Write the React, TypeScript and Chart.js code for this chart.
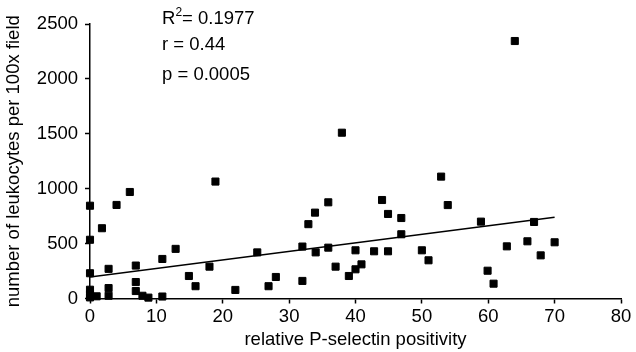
import React, { useEffect, useRef } from "react";
import { Chart, registerables } from "chart.js";

Chart.register(...registerables);

const pointX: number[] = [
  0, 0, 0, 0, 0, 0, 1, 1.8, 2.8, 2.8, 2.8, 4, 6, 6.9, 6.9, 6.9, 7.9, 8.8, 10.9, 10.9,
  12.9, 14.9, 15.9, 18, 18.9, 21.9, 25.2, 26.9, 28, 32, 32, 32.9, 33.9, 34, 35.9, 35.9,
  37, 37.95, 39, 40, 40, 40.9, 42.8, 44, 44.9, 44.9, 46.9, 46.9, 50, 51, 52.9, 53.9,
  58.9, 59.9, 60.8, 62.8, 64, 65.9, 66.9, 67.9, 70,
];
const pointY: number[] = [
  845, 535, 230, 80, 40, 10, 20, 640, 270, 95, 25, 852, 970, 300, 150, 68, 25, 8, 360, 18,
  452, 205, 112, 290, 1065, 78, 420, 112, 196, 160, 473, 677, 782, 420, 876, 463,
  290, 1510, 205, 439, 266, 311, 430, 897, 770, 430, 733, 585, 439, 348, 1110, 851,
  700, 253, 135, 475, 2345, 521, 697, 393, 512,
];
const trendX: number[] = [0, 70];
const trendY: number[] = [195, 740];

const xTicks = { min: 0, max: 80, step: 10 };
const yTicks = { min: 0, max: 2500, step: 500 };

const statLabels: string[] = ["R", "r = 0.44", "p = 0.0005"];
const statX: number[] = [10.85, 10.85, 10.85];
const statY: number[] = [2545, 2312, 2040];

const FONT = "'Liberation Sans', Arial, Helvetica, sans-serif";
const FS = 18.5;

const statPlugin = {
  id: "statText",
  afterDraw(chart: any) {
    const { ctx, scales } = chart;
    ctx.save();
    ctx.fillStyle = "#000";
    ctx.textBaseline = "middle";
    ctx.textAlign = "left";
    statLabels.forEach((t, i) => {
      const px = scales.x.getPixelForValue(statX[i]);
      const py = scales.y.getPixelForValue(statY[i]);
      ctx.font = `${FS}px ${FONT}`;
      if (i === 0) {
        ctx.fillText("R", px, py);
        const w = ctx.measureText("R").width;
        ctx.font = `12px ${FONT}`;
        ctx.fillText("2", px + w, py - 6);
        const w2 = ctx.measureText("2").width;
        ctx.font = `${FS}px ${FONT}`;
        ctx.fillText("= 0.1977", px + w + w2, py);
      } else {
        ctx.fillText(t, px, py);
      }
    });
    ctx.restore();
  },
};

export default function App() {
  const ref = useRef<HTMLCanvasElement | null>(null);
  useEffect(() => {
    if (!ref.current) return;
    const chart = new Chart(ref.current, {
      type: "scatter",
      data: {
        datasets: [
          {
            type: "scatter",
            data: pointX.map((x, i) => ({ x, y: pointY[i] })),
            pointStyle: "rect",
            pointRadius: 5,
            pointBackgroundColor: "#000",
            pointBorderColor: "#000",
            pointBorderWidth: 1,
            clip: false,
          } as any,
          {
            type: "line",
            data: trendX.map((x, i) => ({ x, y: trendY[i] })),
            borderColor: "#000",
            borderWidth: 1.5,
            pointRadius: 0,
            fill: false,
          } as any,
        ],
      },
      options: {
        responsive: true,
        maintainAspectRatio: false,
        animation: false,
        layout: { padding: { top: 24, right: 15, left: 0, bottom: 0 } },
        plugins: { legend: { display: false }, tooltip: { enabled: false } },
        scales: {
          x: {
            type: "linear",
            min: xTicks.min,
            max: xTicks.max,
            ticks: {
              stepSize: xTicks.step,
              color: "#000",
              font: { family: FONT, size: FS },
              padding: 2,
              maxRotation: 0,
              callback: (v: any) => String(v),
            },
            grid: { drawOnChartArea: false, drawTicks: true, tickLength: 5, tickColor: "#000", tickWidth: 1.5 },
            border: { display: true, color: "#000", width: 1.5 },
            title: {
              display: true,
              text: "relative P-selectin positivity",
              color: "#000",
              font: { family: FONT, size: FS },
              padding: { top: 0, bottom: 1 },
            },
            afterFit: (s: any) => {
              s.height = 53.5;
            },
          },
          y: {
            type: "linear",
            min: yTicks.min,
            max: yTicks.max,
            ticks: {
              stepSize: yTicks.step,
              color: "#000",
              font: { family: FONT, size: FS },
              padding: 7,
              callback: (v: any) => String(v),
            },
            grid: { drawOnChartArea: false, drawTicks: true, tickLength: 5, tickColor: "#000", tickWidth: 1.5 },
            border: { display: true, color: "#000", width: 1.5 },
            title: {
              display: true,
              text: "number of leukocytes per 100x field",
              color: "#000",
              font: { family: FONT, size: FS },
              padding: { top: 3, bottom: 0 },
            },
            afterFit: (s: any) => {
              s.width = 90;
            },
          },
        },
      },
      plugins: [statPlugin],
    });
    return () => chart.destroy();
  }, []);
  return (
    <div style={{ position: "fixed", left: 0, top: 0, width: 636, height: 352, background: "#fff" }}>
      <canvas ref={ref} />
    </div>
  );
}
